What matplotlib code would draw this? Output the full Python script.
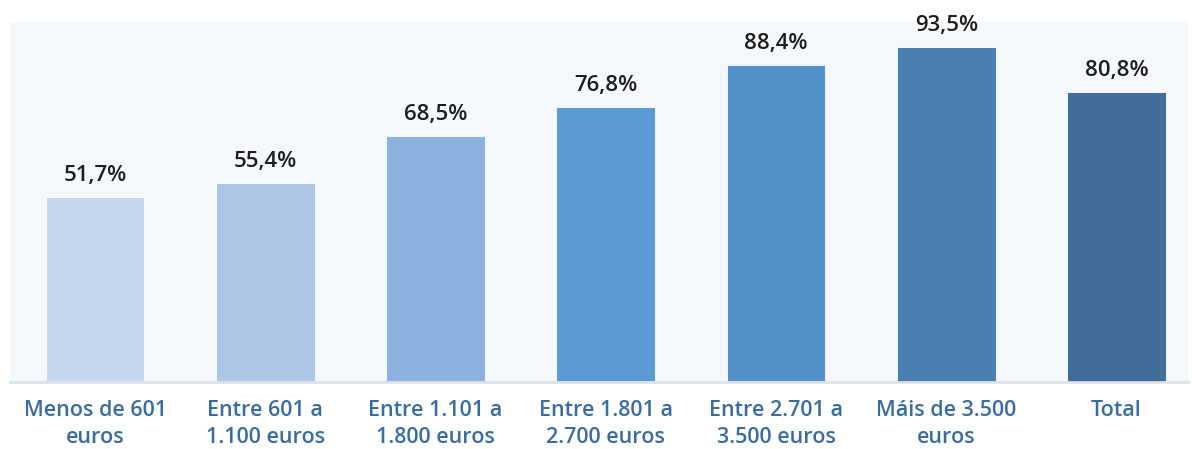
import matplotlib.pyplot as plt

# Data
categories = ['Menos de 601\neuros', 'Entre 601 a\n1.100 euros', 'Entre 1.101 a\n1.800 euros',
              'Entre 1.801 a\n2.700 euros', 'Entre 2.701 a\n3.500 euros', 'Máis de 3.500\neuros', 'Total']
values = [51.7, 55.4, 68.5, 76.8, 88.4, 93.5, 80.8]
colors = ['#c5d7ee', '#adc6e6', '#8bb1de', '#5b9bd5', '#5190c8', '#4a7fb0', '#416d98']

plt.rcParams['font.family'] = ['Open Sans', 'DejaVu Sans']

fig = plt.figure(figsize=(11.92, 4.49), dpi=100)
ax = fig.add_axes([10 / 1192, 1 - 382 / 449, 1178 / 1192, 360 / 449])
ax.set_facecolor('#f5f8fb')

x = range(len(categories))
bars = ax.bar(x, values, width=0.58, color=colors, edgecolor='#ffffff', linewidth=0.6)

for b, v in zip(bars, values):
    ax.annotate(f'{v:.1f}%'.replace('.', ','), (b.get_x() + b.get_width() / 2, v),
                xytext=(0, 8), textcoords='offset points', ha='center', va='bottom',
                fontsize=16, fontweight='semibold', color='#1e1e1e')

ax.set_xlim(-0.5, 6.42)
ax.set_ylim(0, 100.4)
ax.set_xticks(list(x))
ax.set_xticklabels(categories, fontsize=15.5, fontweight='semibold', color='#3a6c9e', linespacing=1.4)
ax.tick_params(axis='x', length=0, pad=13)
ax.set_yticks([])
for s in ['top', 'left', 'right']:
    ax.spines[s].set_visible(False)
ax.spines['bottom'].set_color('#dde2e8')
ax.spines['bottom'].set_linewidth(2)

plt.savefig('out.png', dpi=100)
